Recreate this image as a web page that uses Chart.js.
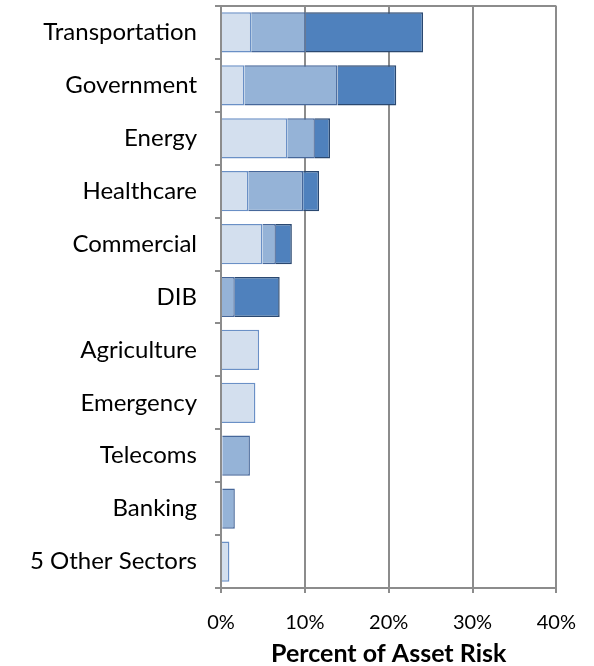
<!DOCTYPE html>
<html>
<head>
<meta charset="utf-8">
<script src="https://cdn.jsdelivr.net/npm/chart.js@4.4.1/dist/chart.umd.min.js"></script>
<style>
    html, body { margin: 0; padding: 0; background: #fff; }
    #wrap { width: 594px; height: 666px; }
</style>
</head>
<body>
<div id="wrap"><canvas id="riskChart" width="594" height="666"></canvas></div>
<script>
// Setores e parcelas do risco (em %)
const sectors = ['Transportation', 'Government', 'Energy', 'Healthcare', 'Commercial', 'DIB',
    'Agriculture', 'Emergency', 'Telecoms', 'Banking', '5 Other Sectors'];
const lowRisk = [3.6, 2.8, 7.9, 3.25, 4.95, 0, 4.55, 4.1, 0.15, 0.15, 1.0];
const midRisk = [6.5, 11.1, 3.3, 6.55, 1.6, 1.65, 0, 0, 3.3, 1.5, 0];
const highRisk = [14.0, 7.0, 1.8, 1.9, 1.9, 5.35, 0, 0, 0, 0, 0];
const xTicks = [0, 10, 20, 30, 40];

const gridGray = '#8c8c8c';
const fontFamily = 'Lato, "DejaVu Sans", sans-serif';

// Moldura superior da área do gráfico
const topFrame = {
    id: 'topFrame',
    afterDraw(chart) {
        const { ctx, chartArea } = chart;
        ctx.save();
        ctx.strokeStyle = gridGray;
        ctx.lineWidth = 2;
        ctx.beginPath();
        ctx.moveTo(chartArea.left, chartArea.top);
        ctx.lineTo(chartArea.right, chartArea.top);
        ctx.stroke();
        ctx.restore();
    }
};

document.addEventListener('DOMContentLoaded', () => {
    const ctx = document.getElementById('riskChart').getContext('2d');
    new Chart(ctx, {
        type: 'bar',
        data: {
            labels: sectors,
            datasets: [{
                label: 'Low',
                data: lowRisk,
                backgroundColor: '#d3dfee',
                borderColor: '#6a90c6',
                borderWidth: 1.5
            }, {
                label: 'Medium',
                data: midRisk,
                backgroundColor: '#95b3d7',
                borderColor: '#46679a',
                borderWidth: 1.5
            }, {
                label: 'High',
                data: highRisk,
                backgroundColor: '#4f81bd',
                borderColor: '#2a4870',
                borderWidth: 1.5
            }]
        },
        options: {
            indexAxis: 'y',
            responsive: false,
            animation: false,
            barPercentage: 0.76,
            categoryPercentage: 1,
            layout: { padding: { top: 6, right: 37, left: 0, bottom: 0 } },
            plugins: {
                legend: { display: false },
                tooltip: { enabled: false }
            },
            scales: {
                x: {
                    stacked: true,
                    min: 0,
                    max: 40,
                    afterBuildTicks: (scale) => {
                        scale.ticks = xTicks.map(v => ({ value: v }));
                    },
                    afterFit: (scale) => { scale.height = 78; },
                    ticks: {
                        callback: (v) => v + '%',
                        color: '#000',
                        padding: 18,
                        font: { family: fontFamily, size: 20 }
                    },
                    grid: {
                        color: gridGray,
                        lineWidth: 2,
                        tickLength: 5
                    },
                    border: { color: gridGray, width: 2 },
                    title: {
                        display: true,
                        text: 'Percent of Asset Risk',
                        color: '#000',
                        padding: { top: 0, bottom: 0 },
                        font: { family: fontFamily, size: 25, weight: 'bold', lineHeight: 1 }
                    }
                },
                y: {
                    stacked: true,
                    afterFit: (scale) => {
                        scale.width = 221;
                        scale.paddingTop = 0;
                        scale.paddingBottom = 0;
                    },
                    ticks: {
                        color: '#000',
                        padding: 18,
                        font: { family: fontFamily, size: 24 }
                    },
                    grid: {
                        color: gridGray,
                        lineWidth: 2,
                        drawOnChartArea: false,
                        tickLength: 6
                    },
                    border: { color: gridGray, width: 2 }
                }
            }
        },
        plugins: [topFrame]
    });
});
</script>
</body>
</html>
